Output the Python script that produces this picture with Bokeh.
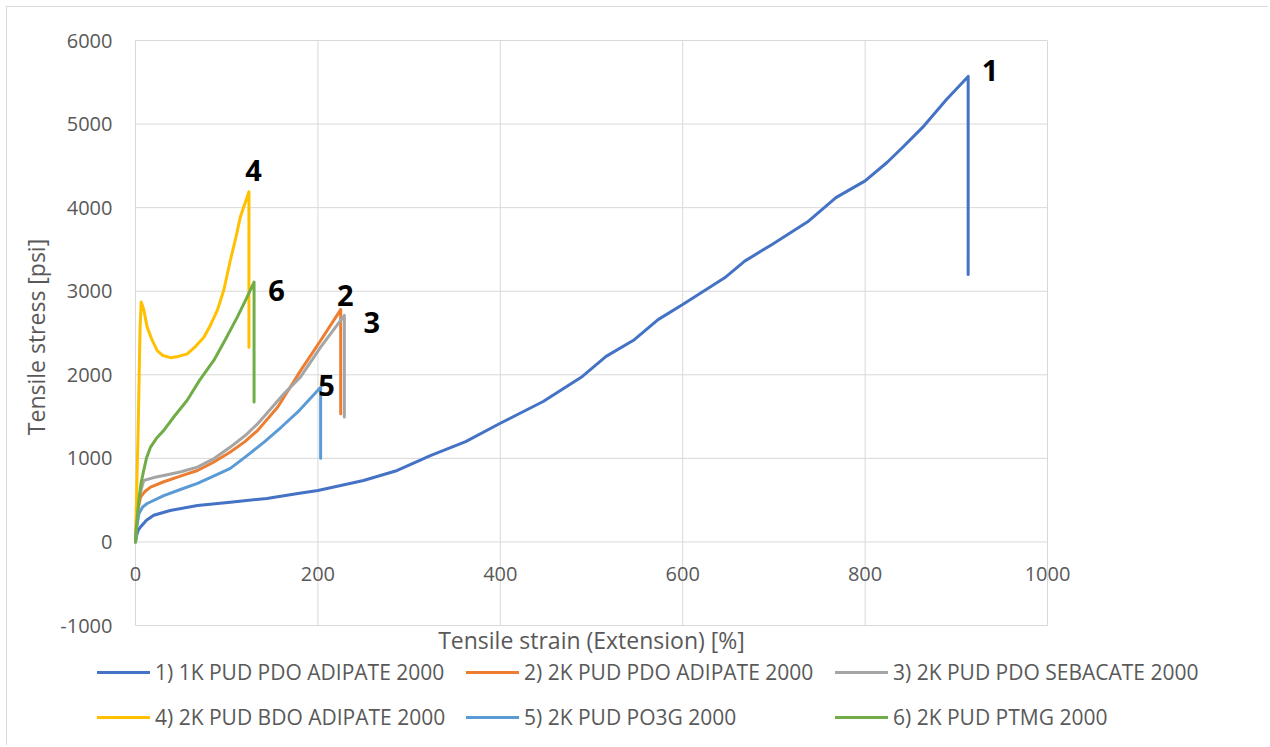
import math
from bokeh.plotting import figure
from bokeh.models import (Legend, LegendItem, FixedTicker, Range1d, Label,
                          ColumnDataSource, LabelSet)
from bokeh.core.properties import value
from bokeh.embed import file_html
from bokeh.resources import INLINE

# ---------------- data ----------------
series_names = [
    "1) 1K PUD PDO ADIPATE 2000",
    "2) 2K PUD PDO ADIPATE 2000",
    "3) 2K PUD PDO SEBACATE 2000",
    "4) 2K PUD BDO ADIPATE 2000",
    "5) 2K PUD PO3G 2000",
    "6) 2K PUD PTMG 2000",
]
series_colors = ["#4472C4", "#ED7D31", "#A5A5A5", "#FFC000", "#5B9BD5", "#70AD47"]

strain_1 = [0, 1, 3, 6, 12, 20, 38, 68, 104, 144, 178, 200, 250, 287, 324, 362, 400,
            447, 490, 516, 547, 573, 600, 646, 668, 698, 737, 768, 800, 824, 841,
            863, 889, 913, 913]
stress_1 = [0, 70, 140, 185, 260, 320, 376, 436, 475, 520, 580, 615, 735, 855, 1035,
            1200, 1420, 1680, 1980, 2220, 2420, 2660, 2840, 3160, 3360, 3560, 3830,
            4120, 4320, 4540, 4720, 4960, 5290, 5570, 3200]

strain_2 = [0, 1, 3, 5.5, 10, 16.5, 31, 50, 68, 85, 104, 120, 134, 156, 181, 203, 225, 225]
stress_2 = [0, 200, 400, 535, 600, 655, 720, 790, 855, 950, 1075, 1200, 1335, 1615,
            2050, 2410, 2780, 1535]

strain_3 = [0, 1, 3, 9, 20, 31, 50, 68, 85, 104, 120, 134, 163, 181, 203, 229, 229]
stress_3 = [0, 250, 500, 735, 770, 795, 840, 895, 990, 1135, 1270, 1415, 1775, 1975,
            2330, 2710, 1495]

strain_4 = [0, 3, 5, 6.2, 9, 12.8, 18, 23.8, 30, 38.4, 47, 56.7, 66, 75, 82, 89.7, 97,
            104, 110, 115, 120, 124.4, 124.4]
stress_4 = [0, 1400, 2550, 2870, 2780, 2570, 2420, 2290, 2230, 2205, 2220, 2250, 2340,
            2450, 2590, 2770, 3020, 3370, 3640, 3890, 4050, 4190, 2330]

strain_5 = [0, 1, 3.7, 8, 12.8, 31, 50, 68, 85, 104, 122, 141, 160, 178, 203, 203]
stress_5 = [0, 150, 336, 420, 460, 555, 630, 700, 785, 880, 1030, 1195, 1375, 1555,
            1850, 1000]

strain_6 = [0, 1.5, 3.7, 6, 9, 12, 16.5, 23, 31, 43, 56.7, 70, 86, 99, 111.6, 121, 130, 130]
stress_6 = [0, 250, 496, 700, 855, 1000, 1135, 1240, 1335, 1510, 1695, 1930, 2175,
            2430, 2690, 2900, 3110, 1675]

label_text = ["1", "2", "3", "4", "5", "6"]
label_strain = [937, 230, 259, 129.5, 209.5, 154.6]
label_stress = [5640, 2950, 2625, 4450, 1875, 3010]

x_ticks = [0, 200, 400, 600, 800, 1000]
x_tick_labels = ["0", "200", "400", "600", "800", "1000"]
y_ticks = [-1000, 0, 1000, 2000, 3000, 4000, 5000, 6000]
y_tick_labels = ["-1000", "0", "1000", "2000", "3000", "4000", "5000", "6000"]

x_title = "Tensile strain (Extension) [%]"
y_title = "Tensile stress [psi]"

# ---------------- layout constants (pixels) ----------------
W, H = 1262, 739                 # canvas
PLOT_L, PLOT_T = 128, 33         # plot area offset inside canvas
PLOT_W, PLOT_H = 912, 585        # plot area size

FONT = "Open Sans"
TXT = "#595959"
GRID = "#d9d9d9"

# the drawing frame covers the whole canvas so that nothing is clipped;
# ranges are chosen so that the tick extremes fall on the plot-area box
xs_per_px = (x_ticks[-1] - x_ticks[0]) / PLOT_W
ys_per_px = (y_ticks[-1] - y_ticks[0]) / PLOT_H
x_rng = Range1d(x_ticks[0] - PLOT_L * xs_per_px, x_ticks[0] + (W - PLOT_L) * xs_per_px)
y_rng = Range1d(y_ticks[-1] - (H - PLOT_T) * ys_per_px, y_ticks[-1] + PLOT_T * ys_per_px)

p = figure(width=W, height=H, output_backend="svg", toolbar_location=None,
           x_range=x_rng, y_range=y_rng, min_border=0,
           min_border_left=0, min_border_right=0, min_border_top=0,
           min_border_bottom=0)
p.styles = {"margin-left": "6px", "margin-top": "6px",
            "border-left": "1px solid #d9d9d9", "border-top": "1px solid #d9d9d9"}
p.outline_line_color = None
p.background_fill_color = "white"
p.border_fill_color = "white"
p.xgrid.visible = False
p.ygrid.visible = False

# gridlines of the plot area (from the tick arrays)
n_x, n_y = len(x_ticks), len(y_ticks)
p.segment(x0=x_ticks, y0=[y_ticks[0]] * n_x, x1=x_ticks, y1=[y_ticks[-1]] * n_x,
          line_color=GRID, line_width=1)
p.segment(x0=[x_ticks[0]] * n_y, y0=y_ticks, x1=[x_ticks[-1]] * n_y, y1=y_ticks,
          line_color=GRID, line_width=1)

# y axis pinned at x = 0
ya = p.yaxis[0]
ya.fixed_location = 0
ya.ticker = FixedTicker(ticks=y_ticks)
ya.major_label_overrides = {t: l for t, l in zip(y_ticks, y_tick_labels)}
ya.axis_line_color = None
ya.major_tick_line_color = None
ya.major_tick_out = 0
ya.major_tick_in = 0
ya.minor_tick_line_color = None
ya.major_label_standoff = 23
ya.major_label_text_font = FONT
ya.major_label_text_font_size = "20px"
ya.major_label_text_color = TXT

# x axis pinned at y = 0 (as in the original chart)
xa = p.xaxis[0]
xa.fixed_location = 0
xa.ticker = FixedTicker(ticks=x_ticks)
xa.major_label_overrides = {t: l for t, l in zip(x_ticks, x_tick_labels)}
xa.axis_line_color = None
xa.major_tick_line_color = None
xa.major_tick_out = 0
xa.major_tick_in = 0
xa.minor_tick_line_color = None
xa.major_label_standoff = 25
xa.major_label_text_font = FONT
xa.major_label_text_font_size = "20px"
xa.major_label_text_color = TXT

# axis titles
p.add_layout(Label(x=(x_ticks[0] + x_ticks[-1]) / 2, y=y_ticks[0], y_offset=-14,
                   text=x_title, text_align="center", text_baseline="middle",
                   text_font=FONT, text_font_size="23px", text_color=TXT))
p.add_layout(Label(x=x_ticks[0], y=(y_ticks[0] + y_ticks[-1]) / 2, x_offset=-100,
                   y_offset=-4, angle=math.pi / 2, text=y_title,
                   text_align="center", text_baseline="middle",
                   text_font=FONT, text_font_size="23px", text_color=TXT))

# series
strains = [strain_1, strain_2, strain_3, strain_4, strain_5, strain_6]
stresses = [stress_1, stress_2, stress_3, stress_4, stress_5, stress_6]
items = []
for name, col, xs, ys in zip(series_names, series_colors, strains, stresses):
    r = p.line(xs, ys, line_color=col, line_width=3, line_join="round", line_cap="round")
    items.append(LegendItem(label=name, renderers=[r]))

# number labels
num_src = ColumnDataSource(dict(x=label_strain, y=label_stress, t=label_text))
p.add_layout(LabelSet(x="x", y="y", text="t", source=num_src,
                      text_align="center", text_baseline="middle",
                      text_font=value(FONT), text_font_size="29px",
                      text_font_style="bold", text_color="black"))

legend = Legend(items=items, location=(90, 14), orientation="horizontal", ncols=3,
                glyph_width=53, glyph_height=20, label_standoff=5, spacing=15,
                label_height=30, label_width=296, padding=0, margin=0,
                border_line_color=None, background_fill_alpha=0,
                label_text_font=FONT, label_text_font_size="21px",
                label_text_color=TXT)
p.add_layout(legend, "center")

open("out.html", "w").write(file_html(p, INLINE))
